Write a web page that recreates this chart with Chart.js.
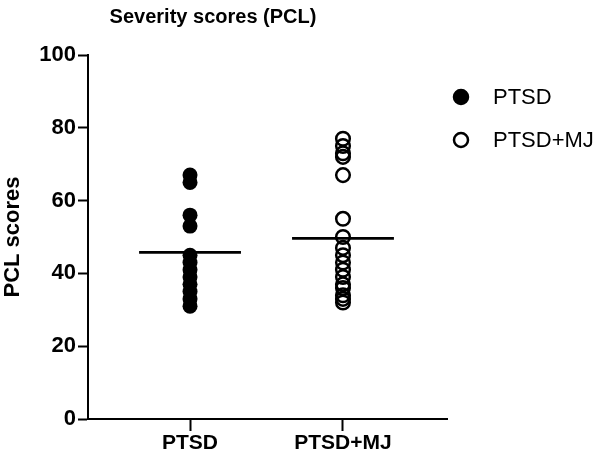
<!DOCTYPE html>
<html>
<head>
<meta charset="utf-8">
<script src="https://cdn.jsdelivr.net/npm/chart.js@4"></script>
<style>
  html, body { margin: 0; padding: 0; background: #fff; }
  #wrap { width: 600px; height: 457px; }
</style>
</head>
<body>
<div id="wrap"><canvas id="graph-pcl"></canvas></div>
<script>
const groups = ['PTSD', 'PTSD+MJ'];
const ptsdScores = [67, 65, 56, 53, 45, 43, 41, 39, 37, 35, 33, 31];
const mjScores = [77, 75, 73, 72, 67, 55, 50, 47, 45, 43, 41, 39, 37, 36, 34, 33, 32];
const groupMeans = [45.8, 49.6];
const yTicks = [0, 20, 40, 60, 80, 100];

const FONT = "'Liberation Sans', Arial, sans-serif";

const meanLine = (i) => ({
  type: 'line',
  label: '',
  data: [{x: i + 1 - 0.333, y: groupMeans[i]}, {x: i + 1 + 0.333, y: groupMeans[i]}],
  borderColor: '#000',
  borderWidth: 2.8,
  pointRadius: 0,
  showLine: true,
  legendHide: true
});

// title and legend drawn by hand so they sit where the original has them
const extras = {
  id: 'extras',
  afterDraw(chart) {
    const ctx = chart.ctx;
    ctx.save();
    ctx.fillStyle = '#000';
    ctx.font = 'bold 20px ' + FONT;
    ctx.textAlign = 'center';
    ctx.textBaseline = 'middle';
    ctx.fillText('Severity scores (PCL)', 213, 17);

    ctx.font = '22px ' + FONT;
    ctx.textAlign = 'left';
    chart.data.datasets.filter(d => !d.legendHide).forEach((d, i) => {
      const y = 97 + i * 43;
      ctx.beginPath();
      ctx.arc(461, y, 7, 0, Math.PI * 2);
      ctx.lineWidth = 2.5;
      ctx.strokeStyle = '#000';
      if (d.backgroundColor !== 'transparent') {
        ctx.fillStyle = d.backgroundColor;
        ctx.fill();
      }
      ctx.stroke();
      ctx.fillStyle = '#000';
      ctx.fillText(d.label, 493, y + 1);
    });
    ctx.restore();
  }
};

new Chart(document.getElementById('graph-pcl'), {
  type: 'scatter',
  data: {
    datasets: [
      {
        label: groups[0],
        data: ptsdScores.map(v => ({x: 1, y: v})),
        backgroundColor: '#000',
        borderColor: '#000',
        borderWidth: 0,
        pointRadius: 7.5
      },
      {
        label: groups[1],
        data: mjScores.map(v => ({x: 2, y: v})),
        backgroundColor: 'transparent',
        borderColor: '#000',
        borderWidth: 2.5,
        pointRadius: 6.8
      },
      meanLine(0),
      meanLine(1)
    ]
  },
  options: {
    responsive: true,
    maintainAspectRatio: false,
    animation: false,
    layout: {
      padding: {left: 0, right: 153, top: 55, bottom: 0}
    },
    scales: {
      x: {
        type: 'linear',
        min: 0.333,
        max: 2.68,
        afterBuildTicks(scale) {
          scale.ticks = groups.map((g, i) => ({value: i + 1}));
        },
        afterFit(scale) { scale.height = 38; },
        grid: {
          display: true,
          drawOnChartArea: false,
          drawTicks: true,
          tickLength: 12,
          tickWidth: 2,
          tickColor: '#000'
        },
        border: {color: '#000', width: 2},
        ticks: {
          color: '#000',
          padding: 0,
          font: {family: FONT, size: 21, weight: 'bold'},
          callback: (v) => groups[v - 1]
        }
      },
      y: {
        min: 0,
        max: 100,
        afterBuildTicks(scale) {
          scale.ticks = yTicks.map(v => ({value: v}));
        },
        afterFit(scale) { scale.width = 88; },
        grid: {
          display: true,
          drawOnChartArea: false,
          drawTicks: true,
          tickLength: 10,
          tickWidth: 2,
          tickColor: '#000'
        },
        border: {color: '#000', width: 2},
        ticks: {
          color: '#000',
          padding: 2,
          font: {family: FONT, size: 22, weight: 'bold'}
        },
        title: {
          display: true,
          text: 'PCL scores',
          color: '#000',
          padding: {top: 0, bottom: 0},
          font: {family: FONT, size: 22, weight: 'bold'}
        }
      }
    },
    plugins: {
      legend: {display: false},
      tooltip: {enabled: false}
    }
  },
  plugins: [extras]
});
</script>
</body>
</html>
